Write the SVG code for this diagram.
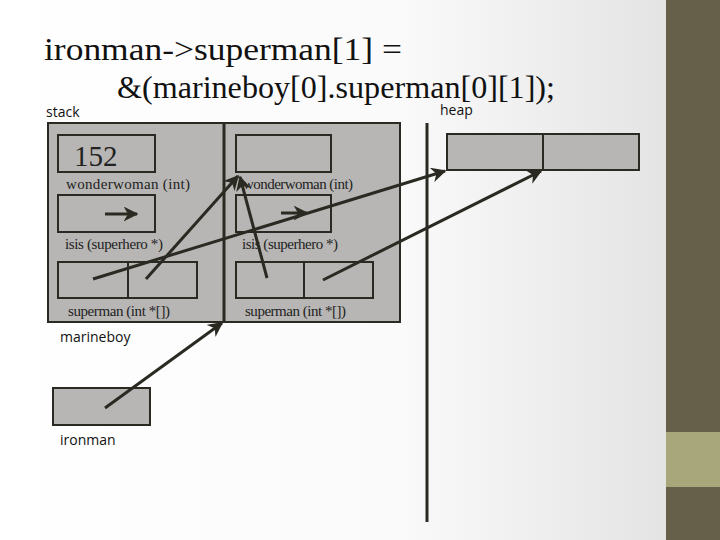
<svg xmlns="http://www.w3.org/2000/svg" width="720" height="540" viewBox="0 0 720 540">
<defs>
<linearGradient id="bg" x1="0" y1="0" x2="1" y2="0"><stop offset="0" stop-color="#ffffff"/><stop offset="0.6" stop-color="#fafafa"/><stop offset="1" stop-color="#e4e4e4"/></linearGradient>
<marker id="ah" viewBox="0 0 10 10" refX="9" refY="5" markerWidth="5" markerHeight="5" orient="auto" markerUnits="strokeWidth"><path d="M0,0 L10,5 L0,10 L3,5 z" fill="#2b2a22"/></marker>
<style>
.box{fill:#b7b6b4;stroke:#2b2a22;stroke-width:2}
.lbl{font-family:"Liberation Serif",serif;font-size:15px;fill:#222}
.sans{font-family:"Open Sans","Liberation Sans",sans-serif;font-size:14px;fill:#111}
.title{font-family:"Liberation Serif",serif;font-size:31px;fill:#111}
.ln{stroke:#2b2a22;stroke-width:3;fill:none}
.ar{stroke:#2b2a22;stroke-width:3;fill:none;marker-end:url(#ah)}
</style>
</defs>
<rect width="666" height="540" fill="url(#bg)"/>
<rect x="666" width="54" height="540" fill="#665f4a"/>
<rect x="666" y="432" width="54" height="55" fill="#a8a77c"/>
<text class="title" x="44" y="60" textLength="358" lengthAdjust="spacingAndGlyphs">ironman-&gt;superman[1] =</text>
<text class="title" x="117" y="98" textLength="438" lengthAdjust="spacingAndGlyphs">&amp;(marineboy[0].superman[0][1]);</text>
<text class="sans" x="46" y="117">stack</text>
<text class="sans" x="440" y="115">heap</text>
<g id="marineboy">
<rect class="box" x="48" y="123" width="352" height="199"/>
<line class="ln" x1="224" y1="123" x2="224" y2="322" stroke-width="2"/>
<rect class="box" x="58" y="135" width="97" height="37"/>
<text x="74" y="166" font-family="Liberation Serif,serif" font-size="29" fill="#222">152</text>
<text class="lbl" x="66" y="189" textLength="124">wonderwoman (int)</text>
<rect class="box" x="58" y="195" width="97" height="37"/>
<text class="lbl" x="65" y="249" textLength="98">isis (superhero *)</text>
<rect class="box" x="58" y="262" width="70" height="36"/>
<rect class="box" x="128" y="262" width="69" height="36"/>
<text class="lbl" x="68" y="316" textLength="102">superman (int *[])</text>
<rect class="box" x="236" y="135" width="95" height="37"/>
<text class="lbl" x="243" y="189" textLength="110">wonderwoman (int)</text>
<rect class="box" x="236" y="195" width="95" height="37"/>
<text class="lbl" x="242" y="249" textLength="96">isis (superhero *)</text>
<rect class="box" x="236" y="262" width="68" height="36"/>
<rect class="box" x="304" y="262" width="69" height="36"/>
<text class="lbl" x="245" y="316" textLength="101">superman (int *[])</text>
<text class="sans" x="60" y="342">marineboy</text>
</g>
<g id="ironman">
<rect class="box" x="53" y="388" width="97" height="37"/>
<text class="sans" x="60" y="445">ironman</text>
</g>
<g id="heap">
<rect class="box" x="447" y="134" width="96" height="36"/>
<rect class="box" x="543" y="134" width="96" height="36"/>
</g>
<g id="connectors">
<line class="ln" x1="427" y1="123" x2="427" y2="522"/>
<line class="ar" x1="105" y1="214" x2="137" y2="214"/>
<line class="ar" x1="281" y1="213" x2="307" y2="213"/>
<line class="ar" x1="93" y1="279" x2="445" y2="171"/>
<line class="ar" x1="146" y1="279" x2="238" y2="176"/>
<line class="ar" x1="267" y1="278" x2="240" y2="177"/>
<line class="ar" x1="323" y1="280" x2="541" y2="171"/>
<line class="ar" x1="105" y1="408" x2="222" y2="323"/>
</g>
</svg>
